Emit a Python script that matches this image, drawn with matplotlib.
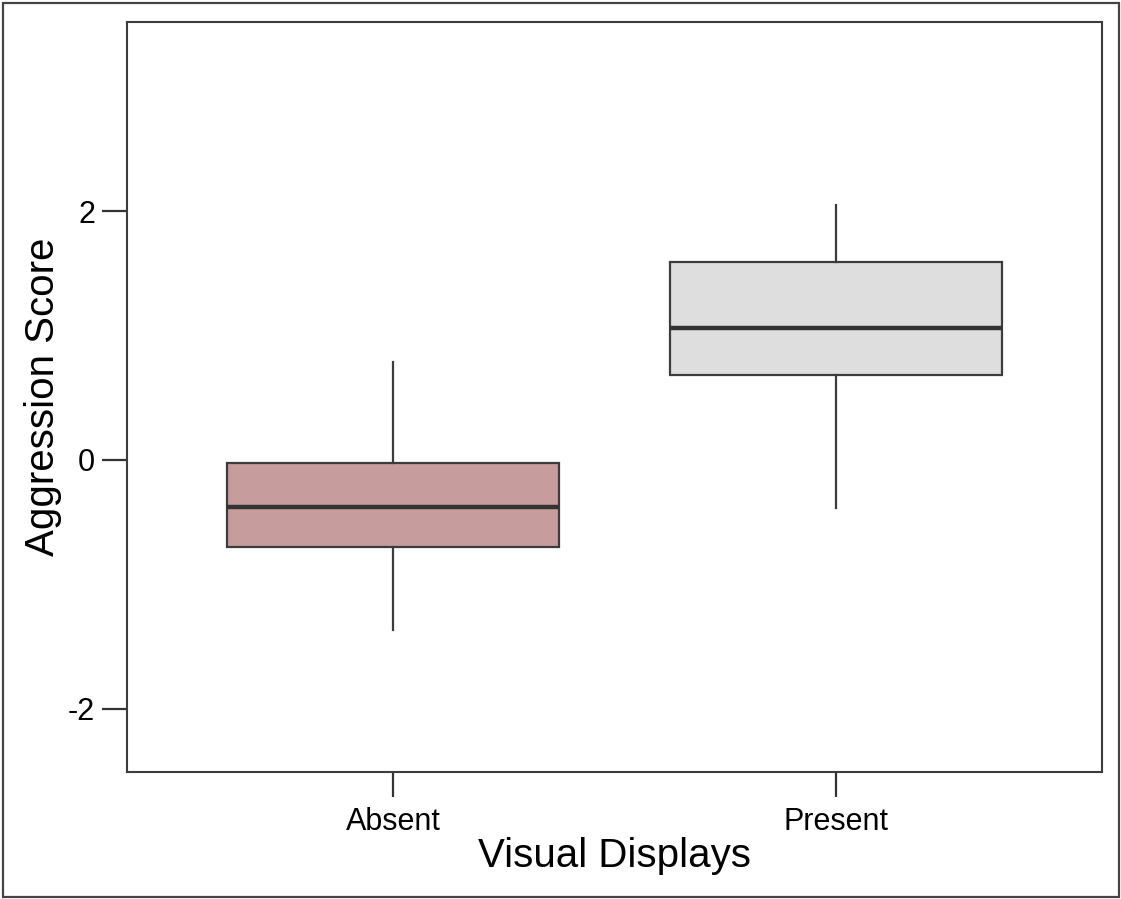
import matplotlib
matplotlib.use("Agg")
from matplotlib import pyplot as plt
from matplotlib import patches as mpatches

plt.rcParams['font.family'] = ['Liberation Sans', 'DejaVu Sans']

# values
groups    = ["Absent", "Present"]
whis_low  = [-1.365, -0.386]
q1_vals   = [-0.699, 0.683]
medians   = [-0.378, 1.060]
q3_vals   = [-0.024, 1.590]
whis_high = [0.787, 2.050]
box_colors = ["#C79C9C", "#DEDEDE"]

y_ticks = [-2, 0, 2]

fig = plt.figure(figsize=(11.21, 8.99), dpi=100)
ax = fig.add_axes([0.1133, 0.1413, 0.8697, 0.8342])

stats = []
for i in range(len(groups)):
	stats.append({
		"label": groups[i],
		"whislo": whis_low[i],
		"q1": q1_vals[i],
		"med": medians[i],
		"q3": q3_vals[i],
		"whishi": whis_high[i],
		"fliers": [],
	})

bp = ax.bxp(stats, positions=[0, 1], widths=0.75, patch_artist=True,
	showcaps=False, showfliers=False,
	boxprops=dict(edgecolor="#3C3C3C", linewidth=1.6),
	whiskerprops=dict(color="#3C3C3C", linewidth=1.6),
	medianprops=dict(color="#333333", linewidth=3.2, solid_capstyle="butt"))

for box, col in zip(bp["boxes"], box_colors):
	box.set_facecolor(col)

ax.set_xlim(-0.6, 1.6)
ax.set_ylim(-2.506, 3.518)
ax.set_yticks(y_ticks)
ax.set_yticklabels([str(t) for t in y_ticks])
ax.set_xticks([0, 1])
ax.set_xticklabels(groups)

for sp in ax.spines.values():
	sp.set_linewidth(1.5)
	sp.set_color("#3C3C3C")

ax.tick_params(axis="y", length=18, width=1.6, color="#333333", labelsize=22, pad=5)
ax.tick_params(axis="x", length=18, width=1.6, color="#333333", labelsize=22, pad=7)

ax.set_xlabel("Visual Displays", fontsize=29, labelpad=0)
ax.set_ylabel("Aggression Score", fontsize=29, labelpad=4)

# outer frame round the whole picture
frame = mpatches.Rectangle((2.5 / 1121, 2.5 / 899), 1116 / 1121, 894 / 899,
	transform=fig.transFigure, fill=False, edgecolor="#444444", linewidth=1.6)
fig.patches.append(frame)

fig.savefig("out.png", dpi=100)
